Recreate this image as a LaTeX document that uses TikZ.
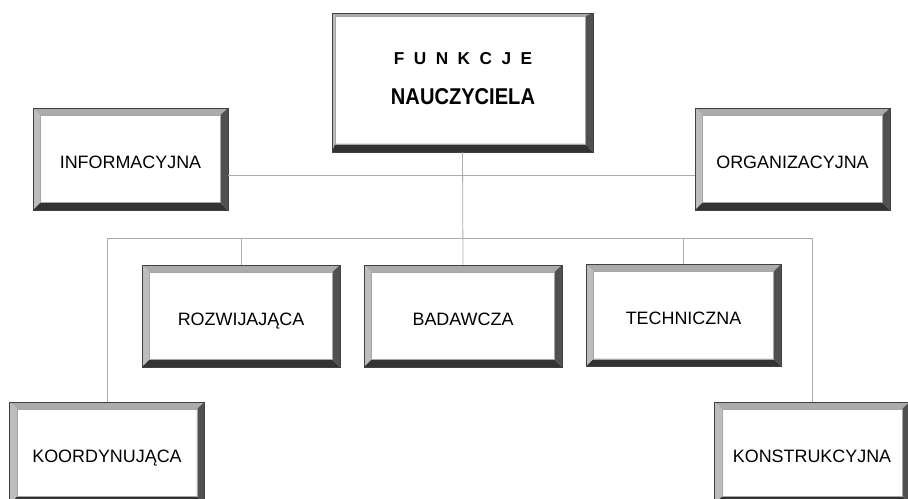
\documentclass[tikz,border=0pt]{standalone}
\usepackage{fontspec}
\setmainfont{Liberation Sans}

\definecolor{bevtop}{HTML}{ABABAB}
\definecolor{bevleft}{HTML}{BDBDBD}
\definecolor{bevbottom}{HTML}{333333}
\definecolor{bevright}{HTML}{505050}

% ramka z fazowaniem: gora, lewo, dol, prawo (cm)
\newcommand{\bevelframe}[4]{%
  \coordinate (bnw) at (path picture bounding box.north west);
  \coordinate (bne) at (path picture bounding box.north east);
  \coordinate (bsw) at (path picture bounding box.south west);
  \coordinate (bse) at (path picture bounding box.south east);
  \fill[bevtop] (bnw) -- (bne) -- ([xshift=-#4cm,yshift=-#1cm]bne)
    -- ([xshift=#2cm,yshift=-#1cm]bnw) -- cycle;
  \fill[bevleft] (bnw) -- ([xshift=#2cm,yshift=-#1cm]bnw)
    -- ([xshift=#2cm,yshift=#3cm]bsw) -- (bsw) -- cycle;
  \fill[bevbottom] (bsw) -- ([xshift=#2cm,yshift=#3cm]bsw)
    -- ([xshift=-#4cm,yshift=#3cm]bse) -- (bse) -- cycle;
  \fill[bevright] (bse) -- ([xshift=-#4cm,yshift=#3cm]bse)
    -- ([xshift=-#4cm,yshift=-#1cm]bne) -- (bne) -- cycle;
  \draw[gray!70,line width=0.3pt] ([xshift=#2cm,yshift=-#1cm]bnw)
    rectangle ([xshift=-#4cm,yshift=#3cm]bse);
}

\begin{document}
\begin{tikzpicture}[x=0.02cm,y=-0.02cm,
    tilebox/.style={draw=black!75,line width=0.4pt,fill=white,
      minimum width=3.9cm,minimum height=2.04cm,
      text height=10.6pt,text depth=0pt,
      font=\fontsize{10.2}{12}\selectfont,
      path picture={\bevelframe{0.14}{0.15}{0.15}{0.15}}},
    headbox/.style={draw=black!75,line width=0.4pt,fill=white,
      minimum width=5.22cm,minimum height=2.78cm,
      path picture={\bevelframe{0.06}{0.06}{0.16}{0.15}}},
    headtext/.style={anchor=base,inner sep=0pt,font=\bfseries},
    link/.style={gray!65,line width=0.45pt}]
  \useasboundingbox (0,0) rectangle (908,499);
  % glowny wezel
  \node[headbox] (head) at (462.5,82.5) {};
  \node[headtext,font=\bfseries\fontsize{9.8}{12}\selectfont] (headA) at (463,65)
    {\spaceskip=5.4pt F U N K C J E};
  \node[headtext,font=\bfseries\fontsize{13}{15}\selectfont] (headB) at (463,105)
    {\scalebox{0.88}[1]{NAUCZYCIELA}};
  % gorny rzad
  \node[tilebox] (info) at (130.5,159) {INFORMACYJNA};
  \node[tilebox] (org) at (792.5,159) {ORGANIZACYJNA};
  % srodkowy rzad
  \node[tilebox,minimum width=3.96cm] (roz) at (241,316) {ROZWIJAJĄCA};
  \node[tilebox,minimum width=3.96cm] (bad) at (463,316) {BADAWCZA};
  \node[tilebox] (tech) at (683.5,315.5) {TECHNICZNA};
  % dolny rzad
  \node[tilebox] (koo) at (107,453) {KOORDYNUJĄCA};
  \node[tilebox] (kon) at (812,453) {KONSTRUKCYJNA};
  % linie
  \coordinate (upper) at (463,175);
  \coordinate (lower) at (463,238);
  \draw[link] (head.south) -- (bad.north);
  \draw[link] (info.east |- upper) -- (org.west |- upper);
  \draw[link] (koo.north) -- (koo.north |- lower) -- (kon.north |- lower) -- (kon.north);
  \foreach \n in {roz,tech}
    \draw[link] (\n.north |- lower) -- (\n.north);
\end{tikzpicture}
\end{document}
